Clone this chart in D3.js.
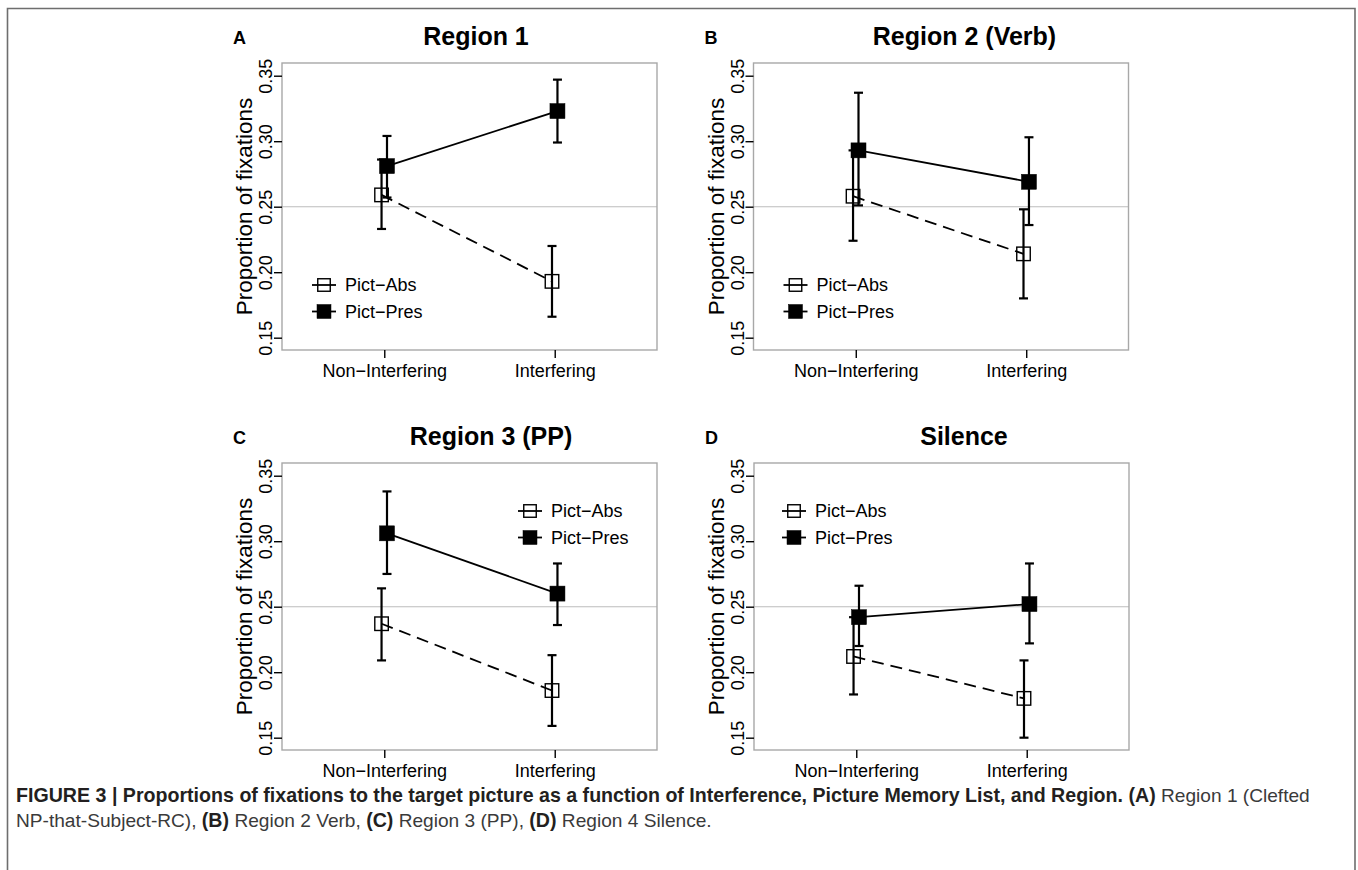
<!DOCTYPE html>
<html>
<head>
<meta charset="utf-8">
<script src="https://cdn.jsdelivr.net/npm/d3@7"></script>
<style>
  html, body { margin: 0; padding: 0; background: #fff; }
  svg { display: block; font-family: "Liberation Sans", Arial, sans-serif; }
</style>
</head>
<body>
<svg id="chart" width="1358" height="870"></svg>
<script>
// ---------------- data ----------------
const conditions = ["Non\u2212Interfering", "Interfering"];
const seriesNames = ["Pict\u2212Abs", "Pict\u2212Pres"];
const panelLetters = ["A", "B", "C", "D"];
const panelTitles = ["Region 1", "Region 2 (Verb)", "Region 3 (PP)", "Silence"];
const yTicks = [0.15, 0.20, 0.25, 0.30, 0.35];
const chanceLevel = 0.25;

// per panel: [Non-Interfering, Interfering]
const absMean = [[0.259, 0.193], [0.258, 0.214], [0.237, 0.186], [0.212, 0.180]];
const absLow  = [[0.233, 0.166], [0.224, 0.180], [0.209, 0.159], [0.183, 0.150]];
const absHigh = [[0.286, 0.220], [0.293, 0.248], [0.264, 0.213], [0.242, 0.209]];
const presMean = [[0.281, 0.323], [0.293, 0.269], [0.306, 0.260], [0.242, 0.252]];
const presLow  = [[0.257, 0.299], [0.251, 0.236], [0.275, 0.236], [0.220, 0.222]];
const presHigh = [[0.304, 0.347], [0.337, 0.303], [0.338, 0.283], [0.266, 0.283]];

// ---------------- layout ----------------
const svg = d3.select("#chart");
const W = 375, H = 287;
const FONT = "Liberation Sans, Arial, sans-serif";
const panels = [
  { left: 282, top: 63, titleX: 194, legend: { x: 42, y: 222 } },
  { left: 753.5, top: 63, titleX: 211, legend: { x: 42, y: 222 } },
  { left: 282, top: 463, titleX: 209, legend: { x: 248, y: 48 } },
  { left: 754, top: 463, titleX: 210, legend: { x: 40, y: 48 } }
];

const x = d3.scaleLinear().domain([0.4, 2.6]).range([0, W]);
const y = d3.scaleLinear().domain([0.1406, 0.3597]).range([H, 0]);
const dodge = 0.016;

// outer frame of the figure
svg.append("path")
  .attr("d", "M7.5,870 V8.5 H1355 V870")
  .attr("fill", "none").attr("stroke", "#6e6e6e").attr("stroke-width", 1.6);

const series = [
  { name: seriesNames[0], mean: absMean, lo: absLow, hi: absHigh, filled: false, dash: "12,7", off: -dodge },
  { name: seriesNames[1], mean: presMean, lo: presLow, hi: presHigh, filled: true, dash: null, off: dodge }
];

panels.forEach((p, pi) => {
  const g = svg.append("g").attr("transform", `translate(${p.left},${p.top})`);

  // chance reference line
  g.append("line")
    .attr("x1", 0).attr("x2", W)
    .attr("y1", y(chanceLevel)).attr("y2", y(chanceLevel))
    .attr("stroke", "#bdbdbd").attr("stroke-width", 1.1);

  // frame
  g.append("rect").attr("x", 0).attr("y", 0).attr("width", W).attr("height", H)
    .attr("fill", "none").attr("stroke", "#a8a8a8").attr("stroke-width", 1.4);

  // y axis
  const yAxis = d3.axisLeft(y).tickValues(yTicks).tickSize(8).tickFormat(d3.format(".2f"));
  const ya = g.append("g").call(yAxis).attr("font-size", null).attr("font-family", null);
  ya.select(".domain").remove();
  ya.selectAll(".tick line").attr("stroke", "#000").attr("stroke-width", 1.4);
  ya.selectAll(".tick text")
    .attr("x", null).attr("dy", null)
    .attr("transform", "translate(-10,0) rotate(-90)")
    .attr("text-anchor", "middle")
    .style("font-size", "18px").attr("fill", "#000")
    .style("font-family", FONT);

  // x axis
  const xAxis = d3.axisBottom(x).tickValues([1, 2]).tickSize(8)
    .tickFormat((d) => conditions[d - 1]);
  const xa = g.append("g").attr("transform", `translate(0,${H})`).call(xAxis)
    .attr("font-size", null).attr("font-family", null);
  xa.select(".domain").remove();
  xa.selectAll(".tick line").attr("stroke", "#000").attr("stroke-width", 1.4);
  xa.selectAll(".tick text")
    .attr("y", null).attr("dy", null)
    .attr("transform", "translate(0,27)")
    .style("font-size", "18px").attr("fill", "#000")
    .style("font-family", FONT);

  // y axis title
  g.append("text")
    .attr("transform", `translate(-30,${H / 2}) rotate(-90)`)
    .attr("text-anchor", "middle")
    .style("font-size", "22.5px").attr("fill", "#000")
    .text("Proportion of fixations");

  // panel title and letter
  g.append("text")
    .attr("x", p.titleX).attr("y", -18)
    .attr("text-anchor", "middle")
    .style("font-size", "25px").attr("font-weight", "bold").attr("fill", "#000")
    .text(panelTitles[pi]);
  g.append("text")
    .attr("x", -49).attr("y", -19)
    .style("font-size", "18px").attr("font-weight", "bold").attr("fill", "#000")
    .text(panelLetters[pi]);

  // series
  series.forEach((s) => {
    const pts = [0, 1].map((ci) => ({
      cx: x(ci + 1 + s.off),
      m: s.mean[pi][ci], lo: s.lo[pi][ci], hi: s.hi[pi][ci]
    }));
    // error bars
    pts.forEach((d) => {
      g.append("line").attr("x1", d.cx).attr("x2", d.cx)
        .attr("y1", y(d.lo)).attr("y2", y(d.hi))
        .attr("stroke", "#000").attr("stroke-width", 2.2);
      [d.lo, d.hi].forEach((v) => {
        g.append("line").attr("x1", d.cx - 4.5).attr("x2", d.cx + 4.5)
          .attr("y1", y(v)).attr("y2", y(v))
          .attr("stroke", "#000").attr("stroke-width", 2.2);
      });
    });
    // connecting line
    g.append("path")
      .datum(pts)
      .attr("d", d3.line().x((d) => d.cx).y((d) => y(d.m)))
      .attr("fill", "none").attr("stroke", "#000").attr("stroke-width", 1.8)
      .attr("stroke-dasharray", s.dash);
    // markers
    pts.forEach((d) => {
      const sz = s.filled ? 15 : 13.5;
      g.append("rect")
        .attr("x", d.cx - sz / 2).attr("y", y(d.m) - sz / 2)
        .attr("width", sz).attr("height", sz)
        .attr("fill", s.filled ? "#000" : "none")
        .attr("stroke", "#000").attr("stroke-width", s.filled ? 0.5 : 1.4);
    });
  });

  // legend
  const lg = g.append("g").attr("transform", `translate(${p.legend.x},${p.legend.y})`);
  series.forEach((s, si) => {
    const row = lg.append("g").attr("transform", `translate(0,${si * 26.5})`);
    row.append("line").attr("x1", -12).attr("x2", 12).attr("y1", 0).attr("y2", 0)
      .attr("stroke", "#000").attr("stroke-width", 1.8);
    const sz = s.filled ? 14 : 12.5;
    row.append("rect").attr("x", -sz / 2).attr("y", -sz / 2).attr("width", sz).attr("height", sz)
      .attr("fill", s.filled ? "#000" : "none")
      .attr("stroke", "#000").attr("stroke-width", s.filled ? 0.5 : 1.4);
    row.append("text").attr("x", 21).attr("y", 0).attr("dy", "0.36em")
      .style("font-size", "18px").attr("fill", "#000")
      .text(s.name);
  });
});

// ---------------- caption ----------------
const CAPFONT = "'Liberation Sans Narrow', 'Arial Narrow', 'Liberation Sans', Arial, sans-serif";
function measure(str, bold, size) {
  const t = svg.append("text").style("font-family", CAPFONT).style("font-size", size + "px")
    .attr("font-weight", bold ? "bold" : null).text(str);
  const w = t.node().getComputedTextLength();
  t.remove();
  return w;
}
const line1Parts = [
  ["FIGURE 3 | Proportions of fixations to the target picture as a function of Interference, Picture Memory List, and Region. (A)", true],
  [" Region 1 (Clefted", false]
];
const line2Parts = [
  ["NP-that-Subject-RC), ", false], ["(B)", true], [" Region 2 Verb, ", false],
  ["(C)", true], [" Region 3 (PP), ", false], ["(D)", true], [" Region 4 Silence.", false]
];
// bold size: "... as a function of" spans x 16 -> 684 in the original
const boldSize = 20 * 668 / measure("FIGURE 3 | Proportions of fixations to the target picture as a function of", true, 20);
// regular size: second line spans x 16 -> 680
const bW = line2Parts.filter((d) => d[1]).reduce((a, d) => a + measure(d[0], true, boldSize), 0);
const nW = line2Parts.filter((d) => !d[1]).reduce((a, d) => a + measure(d[0], false, 20), 0);
const regSize = 20 * (664 - bW) / nW;

function captionLine(parts, yPos) {
  const t = svg.append("text").attr("x", 16).attr("y", yPos).style("font-family", CAPFONT);
  parts.forEach(([str, b]) => {
    t.append("tspan")
      .attr("font-weight", b ? "bold" : null)
      .style("font-size", (b ? boldSize : regSize) + "px")
      .attr("fill", b ? "#231f20" : "#3a3a3a")
      .text(str);
  });
  return t;
}
captionLine(line1Parts, 802);
captionLine(line2Parts, 827);
</script>
</body>
</html>
